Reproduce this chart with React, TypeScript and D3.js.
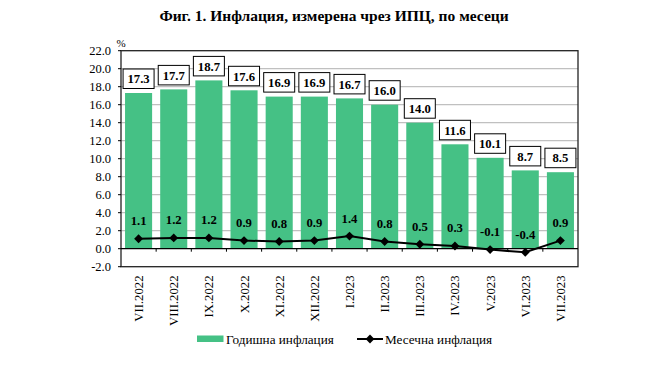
import React from "react";
import * as d3 from "d3";

const categories = ["VII.2022","VIII.2022","IX.2022","X.2022","XI.2022","XII.2022","I.2023","II.2023","III.2023","IV.2023","V.2023","VI.2023","VII.2023"];
const annual = [17.3,17.7,18.7,17.6,16.9,16.9,16.7,16.0,14.0,11.6,10.1,8.7,8.5];
const monthly = [1.1,1.2,1.2,0.9,0.8,0.9,1.4,0.8,0.5,0.3,-0.1,-0.4,0.9];
const yTicks = [-2,0,2,4,6,8,10,12,14,16,18,20,22];

const W = 652, H = 371;
const L = 121, R = 578, T = 50.7, B = 266.7;
const GREEN = "#45C185";
const FONT = "\"Liberation Serif\", \"DejaVu Serif\", serif";

export default function App() {
  const x = d3.scaleBand<string>().domain(categories).range([L, R]).paddingInner(0.23).paddingOuter(0.115);
  const xb = d3.scaleBand<string>().domain(categories).range([L, R]);
  const y = d3.scaleLinear().domain([-2, 22]).range([B, T]);
  const line = d3.line<number>().x((_, i) => xb(categories[i])! + xb.bandwidth() / 2).y(d => y(d));
  const diamond = d3.symbol().type(d3.symbolDiamond2 ?? d3.symbolDiamond).size(50)();
  return (
    <div style={{ position: "absolute", left: 0, top: 0, margin: 0 }}>
      <svg width={W} height={H} style={{ display: "block", background: "#fff", fontFamily: FONT }}>
        <text x={334} y={20.5} textAnchor="middle" fontSize={15.5} fontWeight="bold">Фиг. 1. Инфлация, измерена чрез ИПЦ, по месеци</text>
        <text x={121} y={47} textAnchor="middle" fontSize={11}>%</text>
        {yTicks.filter(t => t > -2 && t < 22 && t !== 0).map(t => (
          <line key={"g" + t} x1={L} x2={R} y1={y(t)} y2={y(t)} stroke="#c0c0c0" strokeWidth={1.3} />
        ))}
        {categories.map((c, i) => (
          <rect key={"b" + c} x={x(c)} y={y(annual[i])} width={x.bandwidth()} height={y(0) - y(annual[i])} fill={GREEN} />
        ))}
        <rect x={L} y={T} width={R - L} height={B - T} fill="none" stroke="#222" strokeWidth={1.3} />
        <line x1={L} x2={R} y1={y(0)} y2={y(0)} stroke="#000" strokeWidth={1.3} />
        {yTicks.map(t => (
          <g key={"t" + t}>
            <line x1={L - 3} x2={L} y1={y(t)} y2={y(t)} stroke="#000" strokeWidth={1} />
            <text x={L - 10} y={y(t)} dy="0.35em" textAnchor="end" fontSize={12.5}>{t.toFixed(1)}</text>
          </g>
        ))}
        {categories.slice(1).map(c => (
          <line key={"xt" + c} x1={xb(c)} x2={xb(c)} y1={y(0)} y2={y(0) + 3} stroke="#000" strokeWidth={1} />
        ))}
        {categories.map((c, i) => {
          const cx = xb(c)! + xb.bandwidth() / 2;
          return (
            <text key={"xl" + c} transform={`translate(${cx + 4.5},275.5) rotate(-90)`} textAnchor="end" fontSize={12.7}>{c}</text>
          );
        })}
        {categories.map((c, i) => {
          const cx = xb(c)! + xb.bandwidth() / 2;
          const by = y(annual[i]);
          return (
            <g key={"bl" + c}>
              <rect x={cx - 15.5} y={by - 24} width={31} height={19.5} fill="#fff" stroke="#000" strokeWidth={1} />
              <text x={cx} y={by - 14.2} dy="0.35em" textAnchor="middle" fontSize={12.7} fontWeight="bold">{annual[i].toFixed(1)}</text>
            </g>
          );
        })}
        <path d={line(monthly)!} fill="none" stroke="#000" strokeWidth={2} />
        {categories.map((c, i) => {
          const cx = xb(c)! + xb.bandwidth() / 2;
          const my = y(monthly[i]);
          return (
            <g key={"m" + c}>
              <path d={diamond!} transform={`translate(${cx},${my})`} fill="#000" />
              <text x={cx} y={my - 18} dy="0.35em" textAnchor="middle" fontSize={12.7} fontWeight="bold">{monthly[i].toFixed(1)}</text>
            </g>
          );
        })}
        <rect x={197} y={335.5} width={26.5} height={6.5} fill={GREEN} />
        <text x={226} y={339} dy="0.35em" fontSize={13.2}>Годишна инфлация</text>
        <line x1={357} x2={383} y1={339} y2={339} stroke="#000" strokeWidth={2} />
        <path d={diamond!} transform="translate(370,339)" fill="#000" />
        <text x={385} y={339} dy="0.35em" fontSize={13.2}>Месечна инфлация</text>
      </svg>
    </div>
  );
}
